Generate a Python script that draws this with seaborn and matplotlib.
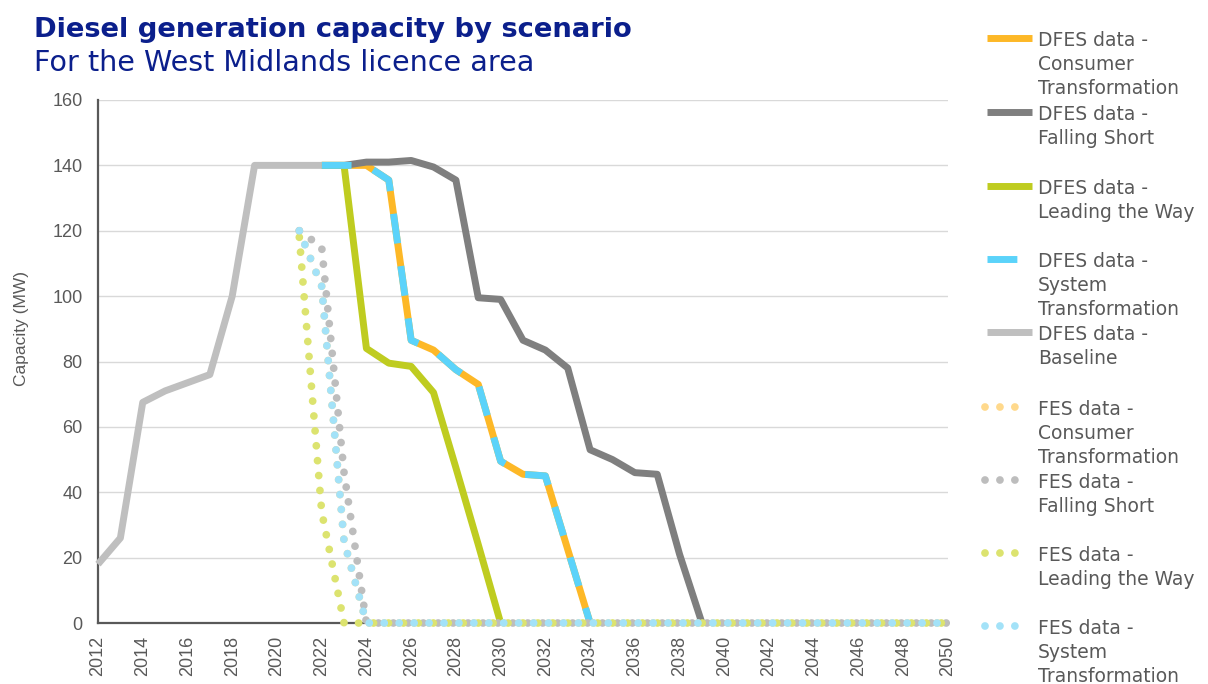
import matplotlib.pyplot as plt
import seaborn as sns
from matplotlib.lines import Line2D

# values (MW)
years_baseline = [2012, 2013, 2014, 2015, 2016, 2017, 2018, 2019, 2020, 2021, 2022]
dfes_baseline = [18, 26, 67.5, 71, 73.5, 76, 100, 140, 140, 140, 140]

years_ct = [2022, 2023, 2024, 2025, 2026, 2027, 2028, 2029, 2030, 2031, 2032, 2033, 2034]
dfes_ct = [140, 140, 140, 135.5, 86.5, 83.5, 77.5, 73, 49.5, 45.5, 45, 22.5, 0]
years_st = [2022, 2023, 2024, 2025, 2026, 2027, 2028, 2029, 2030, 2031, 2032, 2033, 2034]
dfes_st = [140, 140, 140, 135.5, 86.5, 83.5, 77.5, 73, 49.5, 45.5, 45, 22.5, 0]

years_fs = [2022, 2023, 2024, 2025, 2026, 2027, 2028, 2029, 2030, 2031, 2032, 2033, 2034,
            2035, 2036, 2037, 2038, 2039]
dfes_fs = [140, 140, 141, 141, 141.5, 139.5, 135.5, 99.5, 99, 86.5, 83.5, 78, 53,
           50, 46, 45.5, 21, 0]

years_lw = [2022, 2023, 2024, 2025, 2026, 2027, 2028, 2029, 2030]
dfes_lw = [140, 140, 84, 79.5, 78.5, 70.5, 47.5, 24, 0]

years_fes = list(range(2021, 2051))
fes_ct = [120, 103, 25, 0, 0, 0, 0, 0, 0, 0, 0, 0, 0, 0, 0,
          0, 0, 0, 0, 0, 0, 0, 0, 0, 0, 0, 0, 0, 0, 0]
fes_fs = [120, 115, 46, 0, 0, 0, 0, 0, 0, 0, 0, 0, 0, 0, 0,
          0, 0, 0, 0, 0, 0, 0, 0, 0, 0, 0, 0, 0, 0, 0]
fes_lw = [118, 34, 0, 0, 0, 0, 0, 0, 0, 0, 0, 0, 0, 0, 0,
          0, 0, 0, 0, 0, 0, 0, 0, 0, 0, 0, 0, 0, 0, 0]
fes_st = [120, 103, 25, 0, 0, 0, 0, 0, 0, 0, 0, 0, 0, 0, 0,
          0, 0, 0, 0, 0, 0, 0, 0, 0, 0, 0, 0, 0, 0, 0]

x_ticks = [2012, 2014, 2016, 2018, 2020, 2022, 2024, 2026, 2028, 2030, 2032,
           2034, 2036, 2038, 2040, 2042, 2044, 2046, 2048, 2050]
y_ticks = [0, 20, 40, 60, 80, 100, 120, 140, 160]

labels = [
    "DFES data -\nConsumer\nTransformation",
    "DFES data -\nFalling Short",
    "DFES data -\nLeading the Way",
    "DFES data -\nSystem\nTransformation",
    "DFES data -\nBaseline",
    "FES data -\nConsumer\nTransformation",
    "FES data -\nFalling Short",
    "FES data -\nLeading the Way",
    "FES data -\nSystem\nTransformation",
]

# colours
c_ct, c_fs, c_lw, c_st, c_base = '#FDB827', '#7F7F7F', '#BFCC20', '#5BD3FA', '#BFBFBF'
f_ct, f_fs, f_lw, f_st = '#FFD98C', '#BDBDBD', '#DCE36F', '#A3E2F8'
navy = '#0B1F8C'
txt = '#595959'

sns.set_theme(style="whitegrid")
plt.rcParams['font.family'] = ['Liberation Sans', 'DejaVu Sans']

fig = plt.figure(figsize=(12.08, 6.84), dpi=100)
W, H = 1208, 684
ax = fig.add_axes([98 / W, 1 - 623 / H, 850 / W, 523 / H])

solid = dict(linewidth=5, linestyle='-', solid_capstyle='butt', solid_joinstyle='round')
dash = dict(linewidth=5, linestyle=(0, (4.3, 3.3)), dash_capstyle='butt', dash_joinstyle='round')
dots = dict(linewidth=5.6, linestyle=(0, (0.001, 1.92)), dash_capstyle='round')

series = [
    (years_ct, dfes_ct, c_ct, solid),
    (years_fs, dfes_fs, c_fs, solid),
    (years_lw, dfes_lw, c_lw, solid),
    (years_st, dfes_st, c_st, dash),
    (years_baseline, dfes_baseline, c_base, solid),
    (years_fes, fes_ct, f_ct, dots),
    (years_fes, fes_fs, f_fs, dots),
    (years_fes, fes_lw, f_lw, dots),
    (years_fes, fes_st, f_st, dots),
]

for x, y, col, sty in series:
    sns.lineplot(x=x, y=y, color=col, errorbar=None, ax=ax, clip_on=False, zorder=3, **sty)

ax.set_xlim(2012, 2050)
ax.set_ylim(0, 160)
ax.set_xticks(x_ticks)
ax.set_yticks(y_ticks)
ax.set_xticklabels([str(t) for t in x_ticks], rotation=90)
ax.tick_params(axis='both', length=0, labelsize=13, labelcolor=txt)
ax.tick_params(axis='y', pad=11)
ax.tick_params(axis='x', pad=9)
ax.grid(axis='x', visible=False)
ax.grid(axis='y', color='#D9D9D9', linewidth=1)
for s in ['top', 'right']:
    ax.spines[s].set_visible(False)
for s in ['left', 'bottom']:
    ax.spines[s].set_color('#595959')
    ax.spines[s].set_linewidth(1.6)
    ax.spines[s].set_zorder(2.5)
ax.set_xlabel('')
ax.set_ylabel('')

fig.text(22 / W, 1 - 328 / H, 'Capacity (MW)', rotation=90, ha='center', va='center',
         fontsize=12.5, color=txt)

# title (wider face, closer to the reference widths)
fig.text(34 / W, 1 - 37 / H, 'Diesel generation capacity by scenario', fontsize=19.7,
         fontweight='bold', color=navy, va='baseline', family='DejaVu Sans')
fig.text(34 / W, 1 - 71 / H, 'For the West Midlands licence area', fontsize=20.6,
         color=navy, va='baseline', family='DejaVu Sans')

# legend built by hand, one entry every ~73.5 px
entry_y = [38, 112, 186, 259, 332, 407, 480, 553, 626]
for (x, y, col, sty), lab, yy in zip(series, labels, entry_y):
    hx0, hx1 = (985, 1020) if sty is dots else (987, 1032)
    fig.add_artist(Line2D([hx0 / W, hx1 / W], [1 - yy / H, 1 - yy / H], color=col,
                          transform=fig.transFigure, **sty))
    for i, part in enumerate(lab.split('\n')):
        fig.text(1038 / W, 1 - (yy + 8 + 24 * i) / H, part, fontsize=13.5, color=txt,
                 va='baseline', family='DejaVu Sans')

fig.savefig('out.png', dpi=100)
